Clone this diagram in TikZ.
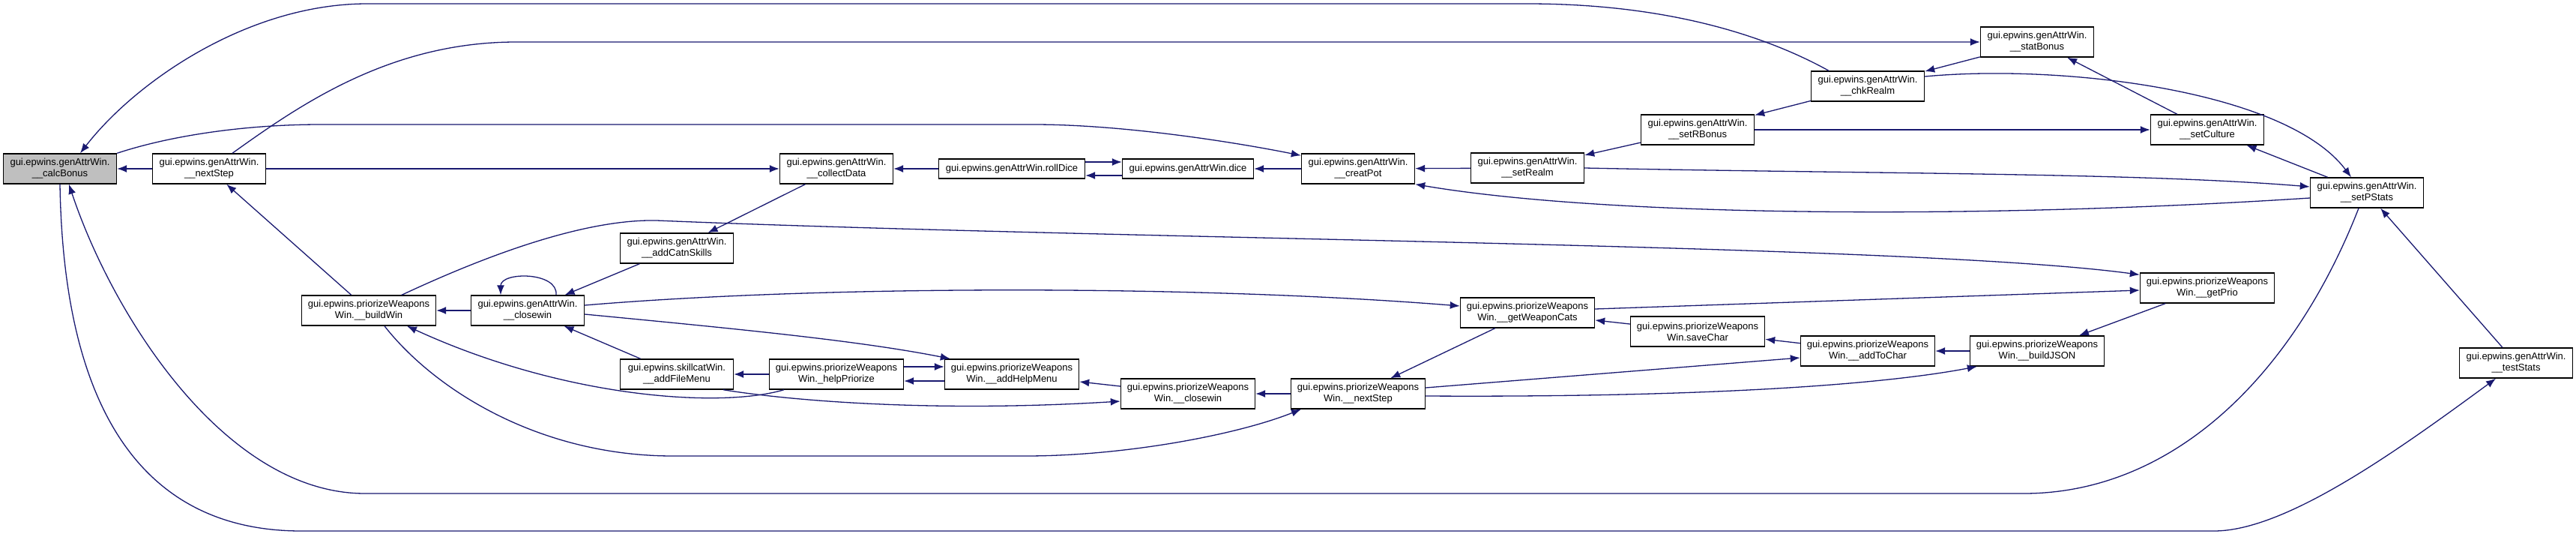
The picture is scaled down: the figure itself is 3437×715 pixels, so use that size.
\documentclass[tikz,border=0pt]{standalone}
\usepackage{fontspec}
\setmainfont{Liberation Sans}
\usetikzlibrary{arrows.meta}
\definecolor{edgeBlue}{HTML}{191970}
\definecolor{focusGrey}{HTML}{BFBFBF}
\begin{document}
\begin{tikzpicture}[x=1pt,y=-1pt,
    cgNode/.style={draw=black,fill=white,line width=1.4pt,inner sep=0pt,minimum width=151pt,minimum height=40pt,align=center,font=\fontsize{13}{15}\selectfont},
    cgWide/.style={cgNode,minimum width=179pt},
    cgFocus/.style={cgNode,fill=focusGrey},
    cgArr/.style={-{Latex[length=13pt,width=10pt]},draw=edgeBlue,line width=1.3pt},
]
\useasboundingbox (0,0) rectangle (3437,715);
\node[cgFocus] (calcBonus) at (80,225) {gui.epwins.genAttrWin.\\\_\_calcBonus};
\node[cgNode] (nextStepG) at (279,225) {gui.epwins.genAttrWin.\\\_\_nextStep};
\node[cgNode] (collectData) at (1116,225) {gui.epwins.genAttrWin.\\\_\_collectData};
\node[cgNode,minimum width=195pt,minimum height=26pt] (rollDice) at (1350,225) {gui.epwins.genAttrWin.rollDice};
\node[cgNode,minimum width=175pt,minimum height=26pt] (dice) at (1585,225) {gui.epwins.genAttrWin.dice};
\node[cgNode] (creatPot) at (1812,225) {gui.epwins.genAttrWin.\\\_\_creatPot};
\node[cgNode] (setRealm) at (2038,224) {gui.epwins.genAttrWin.\\\_\_setRealm};
\node[cgNode] (setRBonus) at (2265,173) {gui.epwins.genAttrWin.\\\_\_setRBonus};
\node[cgNode] (chkRealm) at (2492,115) {gui.epwins.genAttrWin.\\\_\_chkRealm};
\node[cgNode] (statBonus) at (2718,56) {gui.epwins.genAttrWin.\\\_\_statBonus};
\node[cgNode] (setCulture) at (2945,173) {gui.epwins.genAttrWin.\\\_\_setCulture};
\node[cgNode] (setPStats) at (3158,257) {gui.epwins.genAttrWin.\\\_\_setPStats};
\node[cgNode] (testStats) at (3357,484) {gui.epwins.genAttrWin.\\\_\_testStats};
\node[cgWide] (buildWin) at (492,414) {gui.epwins.priorizeWeapons\\Win.\_\_buildWin};
\node[cgNode] (closeWinG) at (704,414) {gui.epwins.genAttrWin.\\\_\_closewin};
\node[cgNode] (addCatnSkills) at (903,331) {gui.epwins.genAttrWin.\\\_\_addCatnSkills};
\node[cgNode] (addFileMenu) at (903,499) {gui.epwins.skillcatWin.\\\_\_addFileMenu};
\node[cgWide] (helpPriorize) at (1116,499) {gui.epwins.priorizeWeapons\\Win.\_helpPriorize};
\node[cgWide] (addHelpMenu) at (1350,499) {gui.epwins.priorizeWeapons\\Win.\_\_addHelpMenu};
\node[cgWide] (closeWinP) at (1585,525) {gui.epwins.priorizeWeapons\\Win.\_\_closewin};
\node[cgWide] (nextStepP) at (1812,525) {gui.epwins.priorizeWeapons\\Win.\_\_nextStep};
\node[cgWide] (getWeaponCats) at (2038,417) {gui.epwins.priorizeWeapons\\Win.\_\_getWeaponCats};
\node[cgWide] (saveChar) at (2265,442) {gui.epwins.priorizeWeapons\\Win.saveChar};
\node[cgWide] (addToChar) at (2492,468) {gui.epwins.priorizeWeapons\\Win.\_\_addToChar};
\node[cgWide] (buildJSON) at (2718,468) {gui.epwins.priorizeWeapons\\Win.\_\_buildJSON};
\node[cgWide] (getPrio) at (2945,384) {gui.epwins.priorizeWeapons\\Win.\_\_getPrio};
% genAttrWin row
\draw[cgArr] (nextStepG) -- (calcBonus);
\draw[cgArr] (nextStepG) -- (collectData);
\draw[cgArr] (rollDice) -- (collectData);
\draw[cgArr] ([yshift=9pt]rollDice.east) -- ([yshift=9pt]dice.west);
\draw[cgArr] ([yshift=-9pt]dice.west) -- ([yshift=-9pt]rollDice.east);
\draw[cgArr] (creatPot) -- (dice);
\draw[cgArr] (setRealm) -- (creatPot);
\draw[cgArr] ([yshift=-7pt]setPStats.west) .. controls (2650,292) and (2150,290) .. (creatPot.south east);
\draw[cgArr] (setRBonus) -- (setRealm);
\draw[cgArr] (chkRealm) -- (setRBonus);
\draw[cgArr] (statBonus) -- (chkRealm);
\draw[cgArr] ([yshift=13pt]chkRealm.east) .. controls (2750,85) and (3050,120) .. ([xshift=-21pt]setPStats.north);
\draw[cgArr] (setCulture) -- (statBonus);
\draw[cgArr] (setRBonus) -- (setCulture);
\draw[cgArr] (setPStats) -- (setCulture);
\draw[cgArr] (setRealm.east) .. controls (2500,232) and (2850,230) .. ([yshift=8pt]setPStats.west);
\draw[cgArr] (testStats) -- (setPStats);
% closewin and menus
\draw[cgArr] (buildWin) -- (nextStepG);
\draw[cgArr] (closeWinG) -- (buildWin);
\draw[cgArr] ([xshift=38pt]closeWinG.north) .. controls (745,362) and (668,362) .. ([xshift=-36pt]closeWinG.north);
\draw[cgArr] (addCatnSkills) -- (closeWinG);
\draw[cgArr] (collectData) -- (addCatnSkills);
\draw[cgArr] (addFileMenu) -- (closeWinG);
\draw[cgArr] (helpPriorize) -- (addFileMenu);
\draw[cgArr] ([yshift=10pt]helpPriorize.east) -- ([yshift=10pt]addHelpMenu.west);
\draw[cgArr] ([yshift=-9pt]addHelpMenu.west) -- ([yshift=-9pt]helpPriorize.east);
\draw[cgArr] ([yshift=-5pt]closeWinG.east) .. controls (1000,440) and (1150,455) .. ([xshift=8pt]addHelpMenu.north west);
\draw[cgArr] ([yshift=7pt]closeWinG.east) .. controls (1100,380) and (1600,380) .. ([yshift=9pt]getWeaponCats.west);
\draw[cgArr] ([xshift=44pt]buildWin.north) .. controls (650,340) and (780,292) .. (876,294) .. controls (1500,320) and (2550,325) .. ([yshift=-3pt]getPrio.north west);
% priorizeWeaponsWin row
\draw[cgArr] (getPrio) -- (buildJSON);
\draw[cgArr] ([yshift=5pt]getWeaponCats.east) -- ([yshift=-3pt]getPrio.west);
\draw[cgArr] (saveChar) -- (getWeaponCats);
\draw[cgArr] (addToChar) -- (saveChar);
\draw[cgArr] (buildJSON) -- (addToChar);
\draw[cgArr] (getWeaponCats) -- (nextStepP);
\draw[cgArr] (nextStepP) -- (closeWinP);
\draw[cgArr] (closeWinP) -- (addHelpMenu);
\draw[cgArr] ([yshift=8pt]nextStepP.east) -- ([yshift=-9pt]addToChar.west);
\draw[cgArr] ([yshift=-3pt]nextStepP.east) .. controls (2250,530) and (2500,515) .. ([xshift=10pt]buildJSON.south west);
\draw[cgArr] ([xshift=-70pt]helpPriorize.south) .. controls (960,545) and (750,530) .. ([xshift=51pt]buildWin.south);
\draw[cgArr] ([xshift=62pt]addFileMenu.south) .. controls (1060,535) and (1250,550) .. ([yshift=-10pt]closeWinP.west);
\draw[cgArr] ([xshift=21pt]buildWin.south) .. controls (580,520) and (720,608) .. (898,608) -- (1368,608) .. controls (1500,608) and (1650,580) .. ([xshift=-76pt]nextStepP.south);
% long loops round the bottom
\draw[cgArr] ([xshift=-11pt]setPStats.south) .. controls (3060,500) and (2900,658) .. (2700,658) -- (487,658) .. controls (300,658) and (150,420) .. ([xshift=12pt]calcBonus.south);
\draw[cgArr] (calcBonus.south) .. controls (85,560) and (200,708) .. (402,708) -- (2954,708) .. controls (3050,708) and (3200,600) .. ([xshift=-27pt]testStats.south);
% long loops over the top
\draw[cgArr] ([xshift=-52pt]chkRealm.north) .. controls (2360,50) and (2230,5) .. (2038,5) -- (490,5) .. controls (330,5) and (180,110) .. ([xshift=27pt]calcBonus.north);
\draw[cgArr] ([xshift=31pt]nextStepG.north) .. controls (400,140) and (520,56) .. (689,56) -- (statBonus);
\draw[cgArr] (calcBonus.north east) .. controls (230,180) and (330,166) .. (428,166) -- (1379,166) .. controls (1500,166) and (1650,190) .. ([yshift=-3pt]creatPot.north west);
\end{tikzpicture}
\end{document}
